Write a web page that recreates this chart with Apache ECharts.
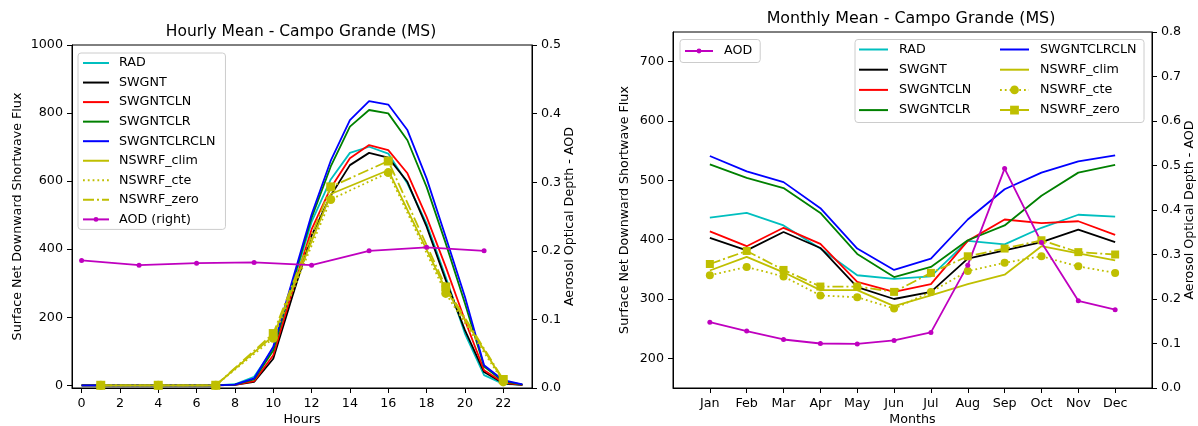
<!DOCTYPE html>
<html>
<head>
<meta charset="utf-8">
<script src="https://cdn.jsdelivr.net/npm/echarts@6/dist/echarts.min.js"></script>
<style>
  html, body { margin: 0; padding: 0; background: #fff; }
  #wrap { position: relative; width: 1198px; height: 426px; }
  #hourly { position: absolute; left: 0; top: 0; width: 600px; height: 426px; }
  #monthly { position: absolute; left: 600px; top: 0; width: 598px; height: 426px; }
</style>
</head>
<body>
<div id="wrap"><div id="hourly"></div><div id="monthly"></div></div>
<script>
// ---------- Hourly means (W/m2), one value per hour 0..23 ----------
const hours = [0,1,2,3,4,5,6,7,8,9,10,11,12,13,14,15,16,17,18,19,20,21,22,23];
const hourlyRAD         = [0,0,0,0,0,0,0,0,3,25,108,295,480,605,683,701,681,593,475,318,152,30,4,1];
const hourlySWGNT       = [0,0,0,0,0,0,0,0,1,10,78,262,440,558,647,683,669,598,466,309,162,39,6,1];
const hourlySWGNTCLN    = [0,0,0,0,0,0,0,0,1,12,88,278,458,580,667,706,691,623,495,348,191,44,8,1];
const hourlySWGNTCLR    = [0,0,0,0,0,0,0,0,2,17,102,300,492,643,760,809,799,720,583,417,241,55,12,2];
const hourlySWGNTCLRCLN = [0,0,0,0,0,0,0,0,2,20,113,309,502,660,779,835,825,750,608,436,260,59,15,3];

// NSWRF runs are 3-hourly
const nswrfHours  = [1,4,7,10,13,16,19,22];
const hourlyClim  = [0,0,0,145,562,632,282,14];
const hourlyCte   = [0,0,0,138,546,625,270,10];
const hourlyZero  = [0,0,0,152,583,659,289,17];

// AOD (right axis), 3-hourly
const aodHours  = [0,3,6,9,12,15,18,21];
const hourlyAOD = [0.186,0.179,0.182,0.183,0.179,0.200,0.205,0.200];

const hourTicks     = [0,2,4,6,8,10,12,14,16,18,20,22];
const hourFluxTicks = [0,200,400,600,800,1000];
const hourAODTicks  = [0,0.1,0.2,0.3,0.4,0.5];

// ---------- Monthly means ----------
const months = ['Jan','Feb','Mar','Apr','May','Jun','Jul','Aug','Sep','Oct','Nov','Dec'];
const monthNums = [1,2,3,4,5,6,7,8,9,10,11,12];
const monthlyRAD         = [437,445,424,385,340,334,338,398,392,420,442,439];
const monthlySWGNT       = [403,382,413,386,320,300,312,368,382,396,417,396];
const monthlySWGNTCLN    = [414,389,420,393,329,312,325,398,434,428,431,408];
const monthlySWGNTCLR    = [527,504,487,445,376,337,354,399,424,474,513,526];
const monthlySWGNTCLRCLN = [541,515,497,453,385,349,368,434,485,513,532,542];
const monthlyClim        = [348,371,345,315,315,288,306,325,341,389,377,365];
const monthlyCte         = [340,354,338,306,303,284,312,347,361,372,355,344];
const monthlyZero        = [359,381,349,321,321,312,344,372,385,399,379,375];
const monthlyAOD         = [0.148,0.128,0.109,0.100,0.099,0.107,0.125,0.276,0.493,0.327,0.196,0.176];

const monthFluxTicks = [200,300,400,500,600,700];
const monthAODTicks  = [0,0.1,0.2,0.3,0.4,0.5,0.6,0.7,0.8];

// ---------- shared styling ----------
const FONT = 'DejaVu Sans';
const FS = 12.7;
const COLORS = {
  RAD: '#00bfbf', SWGNT: '#000000', SWGNTCLN: '#ff0000', SWGNTCLR: '#008000',
  SWGNTCLRCLN: '#0000ff', NSWRF: '#bfbf00', AOD: '#bf00bf'
};
const LW = 1.8;
const DOTTED = [1.8, 3];
const DASHDOT = [11, 3, 2, 3];
const txt = { color: '#000', fontFamily: FONT, fontSize: FS };

function pairs(xs, ys) { return xs.map((x, i) => [x, ys[i]]); }

function line(name, xs, ys, color, extra) {
  return Object.assign({
    name, type: 'line', data: pairs(xs, ys),
    symbol: 'none', showSymbol: true, symbolSize: 8,
    lineStyle: { color, width: LW, type: 'solid' },
    itemStyle: { color },
    emphasis: { disabled: true },
    animation: false
  }, extra || {});
}

function valueAxis(min, max, ticks, fmt, extra) {
  return Object.assign({
    type: 'value', min, max,
    axisLine: { show: true, onZero: false, lineStyle: { color: '#000', width: 1 } },
    axisTick: { show: true, customValues: ticks, length: 5, lineStyle: { color: '#000', width: 1 } },
    axisLabel: { customValues: ticks, formatter: fmt, margin: 9, ...txt },
    splitLine: { show: false },
    nameMoveOverlap: false,
    nameTextStyle: { ...txt }
  }, extra || {});
}

// ================= Hourly chart =================
const hourlyChart = echarts.init(document.getElementById('hourly'), null, { renderer: 'canvas' });
const hourlyLegend = ['RAD','SWGNT','SWGNTCLN','SWGNTCLR','SWGNTCLRCLN','NSWRF_clim','NSWRF_cte','NSWRF_zero','AOD (right)'];
hourlyChart.setOption({
  animation: false,
  title: {
    text: 'Hourly Mean - Campo Grande (MS)', left: 296, top: 19, textAlign: 'center',
    textStyle: { color: '#000', fontFamily: FONT, fontSize: 15.5, fontWeight: 'normal' }
  },
  grid: {
    left: 72, right: 68, top: 45, bottom: 38, show: true, borderColor: '#000', borderWidth: 1,
    outerBoundsMode: 'none', containLabel: false
  },
  xAxis: valueAxis(-0.5, 23.5, hourTicks, v => String(v), {
    name: 'Hours', nameLocation: 'middle', nameGap: 25
  }),
  yAxis: [
    valueAxis(-8, 1000, hourFluxTicks, v => String(v), {
      name: 'Surface Net Downward Shortwave Flux', nameLocation: 'middle', nameGap: 48, nameRotate: 90
    }),
    valueAxis(0, 0.5, hourAODTicks, v => v.toFixed(1), {
      position: 'right', name: 'Aerosol Optical Depth - AOD', nameLocation: 'middle', nameGap: 31, nameRotate: 90
    })
  ],
  legend: {
    orient: 'vertical', left: 78, top: 53,
    padding: [3, 10, 3, 4], itemWidth: 26, itemHeight: 6, itemGap: 5.55,
    backgroundColor: 'rgba(255,255,255,0.8)', borderColor: '#cccccc', borderWidth: 1, borderRadius: 3,
    textStyle: { ...txt, lineHeight: 14, padding: [0, 0, 0, 5] },
    selectedMode: false,
    data: hourlyLegend.map(n => n === 'AOD (right)' ? { name: n } : { name: n, itemStyle: { opacity: 0 } })
  },
  series: [
    line('RAD', hours, hourlyRAD, COLORS.RAD),
    line('SWGNT', hours, hourlySWGNT, COLORS.SWGNT),
    line('SWGNTCLN', hours, hourlySWGNTCLN, COLORS.SWGNTCLN),
    line('SWGNTCLR', hours, hourlySWGNTCLR, COLORS.SWGNTCLR),
    line('SWGNTCLRCLN', hours, hourlySWGNTCLRCLN, COLORS.SWGNTCLRCLN),
    line('NSWRF_clim', nswrfHours, hourlyClim, COLORS.NSWRF),
    line('NSWRF_cte', nswrfHours, hourlyCte, COLORS.NSWRF, {
      symbol: 'circle', symbolSize: 9, lineStyle: { color: COLORS.NSWRF, width: LW, type: DOTTED }
    }),
    line('NSWRF_zero', nswrfHours, hourlyZero, COLORS.NSWRF, {
      symbol: 'rect', symbolSize: 9, lineStyle: { color: COLORS.NSWRF, width: LW, type: DASHDOT }
    }),
    line('AOD (right)', aodHours, hourlyAOD, COLORS.AOD, {
      yAxisIndex: 1, symbol: 'circle', symbolSize: 5
    })
  ]
});

// ================= Monthly chart =================
const monthlyChart = echarts.init(document.getElementById('monthly'), null, { renderer: 'canvas' });
const legendBase = {
  orient: 'vertical', top: 42.5, padding: 0, itemWidth: 29, itemHeight: 11, itemGap: 6.2,
  textStyle: { ...txt, lineHeight: 14, padding: [0, 0, 0, 6] }, selectedMode: false, z: 110
};
monthlyChart.setOption({
  animation: false,
  title: {
    text: 'Monthly Mean - Campo Grande (MS)', left: 306, top: 6, textAlign: 'center',
    textStyle: { color: '#000', fontFamily: FONT, fontSize: 15.9, fontWeight: 'normal' }
  },
  grid: {
    left: 73, right: 46, top: 32, bottom: 38, show: true, borderColor: '#000', borderWidth: 1,
    outerBoundsMode: 'none', containLabel: false
  },
  xAxis: valueAxis(0, 13, monthNums, v => months[v - 1], {
    name: 'Months', nameLocation: 'middle', nameGap: 25
  }),
  yAxis: [
    valueAxis(150, 750, monthFluxTicks, v => String(v), {
      name: 'Surface Net Downward Shortwave Flux', nameLocation: 'middle', nameGap: 42, nameRotate: 90
    }),
    valueAxis(0, 0.8, monthAODTicks, v => v.toFixed(1), {
      position: 'right', name: 'Aerosol Optical Depth - AOD', nameLocation: 'middle', nameGap: 31, nameRotate: 90
    })
  ],
  graphic: [{
    type: 'rect', z: 100,
    shape: { x: 255, y: 39.5, width: 289, height: 83, r: 3 },
    style: { fill: 'rgba(255,255,255,0.8)', stroke: '#cccccc', lineWidth: 1 }
  }],
  legend: [
    {
      orient: 'vertical', left: 80, top: 39.5, padding: [4.5, 8, 4.5, 4],
      itemWidth: 28, itemHeight: 6, backgroundColor: 'rgba(255,255,255,0.8)',
      borderColor: '#cccccc', borderWidth: 1, borderRadius: 3,
      textStyle: { ...txt, lineHeight: 14, padding: [0, 0, 0, 6] }, selectedMode: false,
      data: ['AOD']
    },
    Object.assign({}, legendBase, {
      left: 258,
      data: ['RAD','SWGNT','SWGNTCLN','SWGNTCLR'].map(n => ({ name: n, itemStyle: { opacity: 0 } }))
    }),
    Object.assign({}, legendBase, {
      left: 399,
      data: [
        { name: 'SWGNTCLRCLN', itemStyle: { opacity: 0 } },
        { name: 'NSWRF_clim', itemStyle: { opacity: 0 } },
        'NSWRF_cte', 'NSWRF_zero'
      ]
    })
  ],
  series: [
    line('RAD', monthNums, monthlyRAD, COLORS.RAD),
    line('SWGNT', monthNums, monthlySWGNT, COLORS.SWGNT),
    line('SWGNTCLN', monthNums, monthlySWGNTCLN, COLORS.SWGNTCLN),
    line('SWGNTCLR', monthNums, monthlySWGNTCLR, COLORS.SWGNTCLR),
    line('SWGNTCLRCLN', monthNums, monthlySWGNTCLRCLN, COLORS.SWGNTCLRCLN),
    line('NSWRF_clim', monthNums, monthlyClim, COLORS.NSWRF),
    line('NSWRF_cte', monthNums, monthlyCte, COLORS.NSWRF, {
      symbol: 'circle', symbolSize: 8, lineStyle: { color: COLORS.NSWRF, width: LW, type: DOTTED }
    }),
    line('NSWRF_zero', monthNums, monthlyZero, COLORS.NSWRF, {
      symbol: 'rect', symbolSize: 8, lineStyle: { color: COLORS.NSWRF, width: LW, type: DASHDOT }
    }),
    line('AOD', monthNums, monthlyAOD, COLORS.AOD, {
      yAxisIndex: 1, symbol: 'circle', symbolSize: 5
    })
  ]
});
</script>
</body>
</html>
